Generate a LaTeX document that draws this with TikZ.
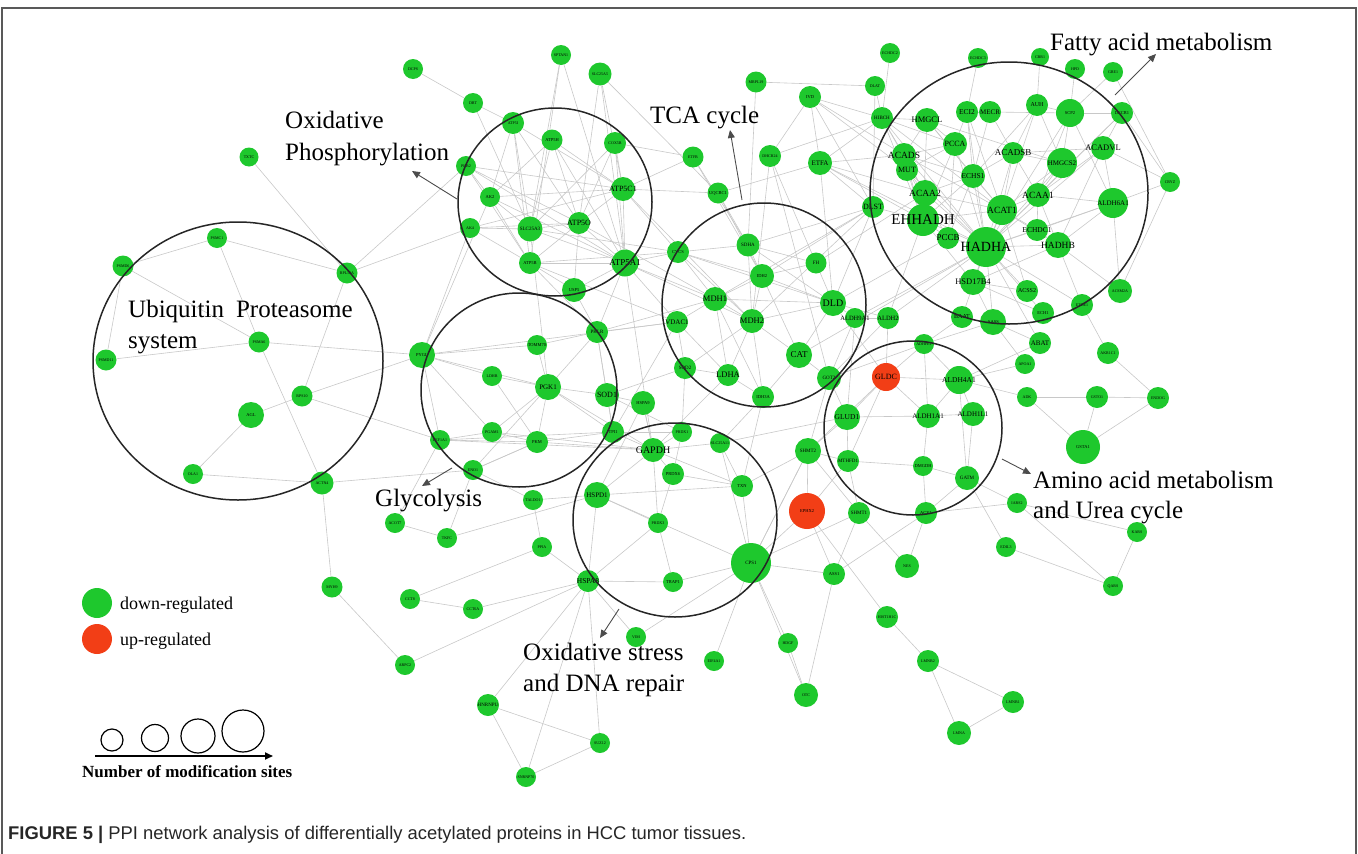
\documentclass[tikz,border=0pt]{standalone}
\usepackage{fontspec}
\setmainfont{Liberation Serif}
\newfontfamily\capfont{Liberation Sans}
\usetikzlibrary{arrows.meta,backgrounds}
\definecolor{ngreen}{RGB}{30,200,45}
\definecolor{nred}{RGB}{242,62,22}
\definecolor{linkgray}{RGB}{200,200,200}
\tikzset{
 pnode/.style={circle,draw=none,inner sep=0pt,fill=ngreen},
 link/.style={draw=linkgray,line width=0.6pt},
 grp/.style={draw=black!85,line width=1.5pt},
 ptr/.style={draw=black!70,line width=0.9pt,-{Triangle[width=7pt,length=8pt]}},
 anno/.style={font=\fontsize{25}{30}\selectfont,inner sep=0pt,anchor=base west},
 legtxt/.style={font=\fontsize{18}{20}\selectfont,inner sep=0pt,anchor=base west},
 scalec/.style={circle,draw=black,line width=1.2pt,inner sep=0pt},
 frame/.style={draw=black!65,line width=1.5pt},
}
\newcommand\GN[7][ngreen]{\node[pnode,fill=#1,minimum size=#5pt,label={[inner sep=0pt,font=\fontsize{#7}{#7}\selectfont]center:#6}] (#2) at (#3,#4) {};}
\begin{document}
\begin{tikzpicture}[x=1pt,y=-1pt]
\useasboundingbox (0,0) rectangle (1358,854);
\draw[frame] (2,870) -- (2,8) -- (1356,8) -- (1356,870);
% Ubiquitin
\GN{u1}{249}{157}{19}{TXTC}{4}
\GN{u2}{217}{238}{20}{PSMC1}{4}
\GN{u3}{123}{266}{21}{PSMD6}{4}
\GN{u4}{347}{273}{21}{RPL10A}{4}
\GN{u5}{106}{360}{21}{PSMD11}{4}
\GN{u6}{259}{342}{21}{PSMA6}{4}
\GN{u7}{302}{396}{21}{RPS10}{4}
\GN{u8}{251}{415}{26}{AGL}{4.5}
\GN{u9}{193}{474}{20}{OLA1}{4}
\GN{u10}{322}{483}{23}{ACTN4}{4}
\GN{u11}{332}{587}{21}{MYH9}{4}
% Oxidative phosphorylation
\GN{o1}{413}{69}{20}{DCPS}{4}
\GN{o2}{473}{103}{20}{DBT}{4}
\GN{o3}{561}{55}{20}{SPTAN1}{4}
\GN{o4}{600}{74}{23}{SLC25A5}{4}
\GN{o5}{513}{123}{22}{ATP5I}{4}
\GN{o6}{552}{140}{21}{ATP5H}{4.5}
\GN{o7}{615}{143}{22}{COX5B}{4}
\GN{o8}{466}{166}{20}{PHB2}{4}
\GN{o9}{490}{197}{20}{AK2}{4.5}
\GN{o10}{623}{189}{24}{ATP5C1}{8}
\GN{o11}{470}{228}{20}{AK4}{4}
\GN{o12}{530}{229}{25}{SLC25A3}{5}
\GN{o13}{579}{223}{22}{ATP5O}{8}
\GN{o14}{530}{263}{22}{ATP5B}{4.5}
\GN{o15}{625}{263}{27}{ATP5A1}{9}
\GN{o16}{574}{290}{24}{USP5}{4.5}
\GN{o17}{678}{252}{22}{CYCS}{4.5}
% TCA
\GN{t1}{756}{82}{21}{MRPL19}{4}
\GN{t2}{770}{156}{22}{DHCR24}{4}
\GN{t3}{693}{157}{21}{ETFB}{4}
\GN{t4}{718}{193}{21}{UQCRC1}{4.5}
\GN{t5}{810}{97}{22}{IVD}{4.5}
\GN{t6}{820}{163}{24}{ETFA}{7}
\GN{t7}{748}{245}{23}{SDHA}{5}
\GN{t8}{816}{263}{21}{FH}{5}
\GN{t9}{762}{276}{24}{IDH2}{4.5}
\GN{t10}{715}{299}{24}{MDH1}{8.5}
\GN{t11}{833}{303}{26}{DLD}{10}
\GN{t12}{752}{321}{24}{MDH2}{8.5}
\GN{t13}{855}{318}{20}{ALDH9A1}{6.5}
\GN{t14}{888}{318}{22}{ALDH2}{6.5}
\GN{t15}{799}{355}{26}{CAT}{9}
\GN{t16}{728}{375}{22}{LDHA}{8.5}
\GN{t17}{829}{378}{24}{GOT2}{5}
\GN{t18}{763}{397}{22}{IDH3A}{4.5}
\GN{t19}{677}{322}{22}{VDAC1}{7}
\GN{t20}{685}{368}{22}{SOD2}{5}
% Fatty acid
\GN{f1}{890}{53}{20}{ECHDC2}{4}
\GN{f2}{875}{86}{20}{DLAT}{4}
\GN{f3}{882}{118}{22}{HIBCH}{5}
\GN{f4}{927}{120}{24}{HMGCL}{8.5}
\GN{f5}{978}{58}{20}{ECHDC3}{4}
\GN{f6}{967}{112}{22}{ECI2}{7.5}
\GN{f7}{990}{112}{22}{MECR}{7}
\GN{f8}{1040}{57}{18}{CBR1}{4}
\GN{f9}{1075}{69}{20}{HPD}{4}
\GN{f10}{1113}{72}{20}{GBE1}{4}
\GN{f11}{1037}{105}{22}{AUH}{6}
\GN{f12}{1070}{113}{28}{SCP2}{4.5}
\GN{f13}{1122}{113}{22}{DECR1}{4.5}
\GN{f14}{955}{144}{24}{PCCA}{8}
\GN{f15}{904}{155}{24}{ACADS}{9.5}
\GN{f16}{907}{170}{22}{MUT}{8}
\GN{f17}{1013}{153}{22}{ACADSB}{9}
\GN{f18}{1062}{163}{30}{HMGCS2}{7}
\GN{f19}{1103}{148}{24}{ACADVL}{8.5}
\GN{f20}{1170}{182}{20}{CRYZ}{4}
\GN{f21}{973}{176}{24}{ECHS1}{7.5}
\GN{f22}{925}{193}{26}{ACAA2}{9.5}
\GN{f23}{1038}{195}{24}{ACAA1}{9.5}
\GN{f24}{873}{207}{22}{DLST}{8}
\GN{f25}{1002}{210}{30}{ACAT1}{9.5}
\GN{f26}{1113}{203}{30}{ALDH6A1}{7}
\GN{f27}{923}{220}{32}{EHHADH}{15}
\GN{f28}{948}{238}{22}{PCCB}{9}
\GN{f29}{986}{247}{40}{HADHA}{14}
\GN{f30}{1037}{230}{22}{ECHDC1}{7.5}
\GN{f31}{1058}{245}{26}{HADHB}{9.5}
\GN{f32}{973}{282}{26}{HSD17B4}{8.5}
\GN{f33}{1027}{291}{22}{ACSS2}{6}
\GN{f34}{1043}{313}{22}{ECH1}{4.5}
\GN{f35}{1082}{305}{22}{ETHE1}{4}
\GN{f36}{1120}{291}{24}{ACSM2A}{4}
\GN{f37}{962}{317}{22}{BAAT}{6}
\GN{f38}{993}{322}{26}{AASS}{4.5}
\GN{f39}{1040}{343}{22}{ABAT}{7}
\GN{f40}{1025}{364}{20}{APOA1}{4}
\GN{f41}{1108}{353}{22}{AKR1C1}{4}
% Amino acid
\GN{a1}{924}{344}{20}{ADHFE1}{4}
\GN[nred]{a2}{886}{377}{28}{GLDC}{8}
\GN{a3}{959}{380}{28}{ALDH4A1}{7.5}
\GN{a4}{847}{417}{26}{GLUD1}{7.5}
\GN{a5}{928}{416}{24}{ALDH1A1}{7}
\GN{a6}{973}{414}{24}{ALDH1L1}{7}
\GN{a7}{808}{451}{26}{SHMT2}{5}
\GN{a8}{848}{461}{22}{MTHFD1}{5}
\GN{a9}{923}{466}{20}{DMGDH}{4.5}
\GN{a10}{967}{478}{24}{GATM}{5}
\GN{a11}{859}{513}{22}{SHMT1}{5}
\GN{a12}{926}{513}{22}{ACY1}{4.5}
\GN[nred]{a13}{807}{511}{36}{EPHX2}{4.5}
\GN{a14}{1027}{397}{20}{ADK}{4}
\GN{a15}{1097}{397}{22}{GSTO1}{4}
\GN{a16}{1158}{398}{22}{ENDOG}{4}
\GN{a17}{1083}{447}{34}{GSTA1}{4.5}
\GN{a18}{1017}{503}{20}{IARS2}{4}
\GN{a19}{1137}{532}{20}{KARS}{4}
\GN{a20}{1006}{547}{20}{EDIL3}{4}
\GN{a21}{1113}{586}{20}{QARS}{4}
% Glycolysis
\GN{g1}{597}{332}{22}{PKLR}{5}
\GN{g2}{422}{355}{26}{PYGL}{4.5}
\GN{g3}{537}{345}{20}{TOMM70}{4.5}
\GN{g4}{492}{376}{20}{LDHB}{4}
\GN{g5}{548}{387}{26}{PGK1}{7}
\GN{g6}{607}{395}{24}{SOD1}{8}
\GN{g7}{643}{403}{24}{HSPA9}{4.5}
\GN{g8}{492}{432}{20}{PGAM1}{4}
\GN{g9}{537}{442}{22}{PKM}{4.5}
\GN{g10}{613}{432}{22}{TPI1}{4.5}
\GN{g11}{440}{440}{20}{EEF1A1}{4}
\GN{g12}{473}{470}{20}{ENO1}{4}
% Oxidative stress
\GN{s1}{682}{432}{20}{PRDX1}{4}
\GN{s2}{653}{450}{24}{GAPDH}{10}
\GN{s3}{673}{474}{22}{PRDX6}{4.5}
\GN{s4}{597}{495}{26}{HSPD1}{7}
\GN{s5}{658}{523}{20}{PRDX3}{4}
\GN{s6}{742}{486}{22}{TXN}{4.5}
\GN{s7}{720}{443}{20}{SLC25A11}{4}
\GN{s8}{751}{563}{40}{CPS1}{5}
\GN{s9}{588}{581}{22}{HSPA8}{7.5}
\GN{s10}{673}{582}{20}{TRAP1}{4.5}
\GN{s11}{533}{500}{20}{TALDO1}{4}
% others
\GN{b1}{395}{523}{20}{ACOT7}{4}
\GN{b2}{447}{538}{20}{TKFC}{4}
\GN{b3}{542}{547}{20}{PPIA}{4}
\GN{b4}{410}{599}{20}{CCT8}{4}
\GN{b5}{473}{609}{20}{CCT6A}{4}
\GN{b6}{405}{665}{20}{ARPC2}{4}
\GN{b7}{636}{637}{20}{VIM}{4}
\GN{b8}{488}{705}{22}{HNRNPU}{5}
\GN{b9}{600}{743}{20}{SUZ12}{4}
\GN{b10}{526}{777}{20}{SNRNP70}{4}
\GN{b11}{834}{574}{22}{ASS1}{4.5}
\GN{b12}{907}{566}{24}{NES}{4}
\GN{b13}{887}{617}{22}{HIST1H1C}{4}
\GN{b14}{788}{643}{20}{HDGF}{4}
\GN{b15}{714}{661}{20}{EIF4A1}{4}
\GN{b16}{806}{695}{24}{OTC}{4}
\GN{b17}{928}{661}{22}{LMNB2}{4}
\GN{b18}{959}{733}{24}{LMNA}{4}
\GN{b19}{1013}{702}{22}{LMNB1}{4}
% edges
\begin{scope}[on background layer]
\foreach \a/\b in {u1/u4,u2/u3,u2/u4,u2/u6,u3/u5,u3/u6,u5/u6,u6/u10,u4/u7,u7/u8,u8/u9,u9/u10,u6/g2,u7/g2,u7/g11,u10/g12,u10/u11,u11/b6,u4/o11,u4/o8,
o1/o2,o2/o5,o2/o12,o5/o9,o5/o12,o5/o14,o5/o13,o6/o9,o6/o13,o6/o12,o6/o15,o7/o10,o7/o13,o7/o15,o7/o12,o8/o9,o8/o10,o8/o13,o8/o15,o9/o12,o9/o14,o9/o10,o10/o13,o10/o15,o10/o17,o10/o11,o11/o12,o11/o14,o11/o13,o12/o13,o12/o15,o13/o15,o13/o14,o14/o15,o15/o17,o3/o12,o3/o15,o3/o14,o4/o13,o4/o10,o4/o15,o16/o15,o16/o14,o16/o13,o5/o10,o8/o14,o9/o15,o14/o17,o12/o17,o6/o10,o17/t7,o17/t10,o17/t9,o15/t19,o15/t10,o10/t4,o10/t3,o13/t10,o14/g1,o16/g1,o12/g5,o11/g2,o9/g2,o15/t12,o10/t12,o14/t19,o15/s2,o17/t12,o17/t11,o7/t3,o4/t4,
t7/t9,t7/t12,t7/t8,t7/t11,t9/t10,t9/t12,t9/t11,t10/t12,t10/t11,t11/t12,t11/t15,t12/t15,t12/t16,t15/t17,t16/t18,t18/t12,t8/t11,t17/t13,t13/t14,t10/t19,t19/t20,t20/t16,t4/t7,t4/t9,t6/t11,t6/t5,t1/t7,t3/t7,t2/t8,t17/t14,t9/t15,t10/t16,t8/t9,t11/t13,t11/t14,t15/t18,t18/t10,t16/t19,t20/t12,t6/t4,t6/f24,t6/f15,t6/f22,t6/f3,t5/f3,t5/f15,t5/f24,t5/f16,t1/f2,t2/t12,t2/t17,t11/f24,t9/f24,t7/f24,t10/f24,t12/f24,t14/f27,t14/f29,t13/f29,t14/a2,t13/a4,t17/a4,t17/a7,t15/f29,t11/a2,t11/f28,t3/t9,t6/f27,t6/f29,t8/f22,t5/t2,t2/f3,
f3/f4,f3/f15,f3/f22,f3/f27,f3/f14,f3/f25,f4/f14,f4/f15,f4/f21,f4/f25,f4/f18,f6/f7,f6/f21,f6/f29,f6/f25,f7/f21,f7/f17,f11/f18,f11/f12,f11/f25,f11/f21,f12/f26,f12/f18,f12/f23,f12/f29,f13/f19,f13/f23,f13/f29,f14/f28,f14/f29,f14/f16,f14/f15,f15/f16,f15/f21,f15/f22,f15/f25,f15/f29,f16/f28,f16/f29,f16/f22,f17/f21,f17/f23,f17/f29,f17/f25,f18/f25,f18/f23,f18/f29,f19/f23,f19/f29,f19/f26,f19/f17,f21/f22,f21/f25,f21/f27,f21/f29,f22/f25,f22/f27,f22/f29,f23/f25,f23/f29,f23/f31,f23/f30,f24/f27,f25/f27,f25/f29,f25/f30,f25/f31,f26/f29,f26/f31,f26/f23,f27/f29,f27/f28,f28/f29,f29/f30,f29/f31,f29/f32,f30/f31,f32/f27,f32/f25,f32/f31,f33/f29,f33/f25,f34/f29,f35/f29,f35/f31,f36/f31,f36/f26,f37/f29,f38/f29,f38/f32,f39/f29,f39/f38,f40/f38,f41/f35,f20/f26,f20/f19,f10/f12,f9/f12,f8/f11,f5/f6,f1/f3,f2/f3,f2/f24,f20/f13,f4/f27,f14/f27,f21/f28,f17/f18,f11/f17,f15/f27,f16/f27,f6/f14,f7/f12,f3/f29,f13/f12,f19/f31,f26/f30,f33/f32,f34/f32,f39/a3,f38/a1,f37/a1,f40/a3,f41/a16,f36/f20,f10/f20,
a1/a2,a1/a3,a1/a5,a2/a3,a2/a4,a2/a5,a2/a7,a2/a8,a3/a5,a3/a6,a3/a10,a4/a7,a4/a8,a4/a5,a5/a6,a5/a9,a6/a10,a7/a8,a7/a11,a8/a9,a8/a11,a9/a10,a9/a12,a10/a12,a3/a14,a14/a15,a14/a17,a15/a17,a15/a16,a16/a17,a13/a7,a13/a8,a13/s8,a13/b11,a12/a18,a10/a18,a18/a19,a19/a21,a18/a21,a20/a21,a10/a20,a4/s7,a7/s6,a7/s8,a11/b11,a11/s8,a12/b12,t17/a1,a12/b11,
g1/g3,g1/g5,g1/g6,g1/g10,g2/g3,g2/g4,g2/g5,g2/g8,g2/g11,g3/g5,g4/g5,g5/g6,g5/g8,g5/g9,g5/g10,g5/g12,g6/g10,g6/g7,g8/g9,g8/g11,g9/g10,g9/g12,g10/s2,g9/s2,g5/s2,g8/s2,g10/s1,g12/g9,g11/g9,g11/g10,g7/s4,g7/s2,g6/t20,g10/t19,g1/t19,g1/t10,g6/s1,g12/s11,g11/b1,g12/b2,g1/o15,g2/t19,g11/s2,g4/g9,
s1/s2,s1/s3,s2/s3,s2/s4,s2/s5,s2/s6,s2/s7,s3/s5,s4/s5,s4/s9,s4/s8,s5/s9,s5/s10,s6/s8,s6/s7,s7/s8,s9/s10,s10/s8,s9/b3,s9/b5,s9/b6,s9/b8,s9/b9,s9/b10,s9/b7,s11/s4,s11/b3,s2/t16,s1/t20,s6/t18,s7/t18,s2/g7,s8/b11,s8/b14,s8/b15,s8/b16,s8/a7,b11/b16,b13/a13,b13/b17,b17/b18,b17/b19,b18/b19,b4/b3,b4/b5,b8/b9,b8/b10,b9/b10,b12/a11,b14/b16,b1/b2,b2/s4,b7/s8,s3/s6,s4/s6}
  \draw[link] (\a) -- (\b);
\end{scope}
% group circles
\draw[grp] (238,361) ellipse [x radius=145pt,y radius=139pt];
\draw[grp] (555,202) ellipse [x radius=97pt,y radius=94pt];
\draw[grp] (764,305) ellipse [x radius=102pt,y radius=102pt];
\draw[grp] (1009,193) ellipse [x radius=139pt,y radius=131pt];
\draw[grp] (519,390) ellipse [x radius=98pt,y radius=97pt];
\draw[grp] (913,428) ellipse [x radius=89pt,y radius=87pt];
\draw[grp] (675,520) ellipse [x radius=102pt,y radius=97pt];
% annotations
\node[anno] (txOx1) at (285,128) {Oxidative};
\node[anno] (txOx2) at (285,160) {Phosphorylation};
\node[anno] (txTCA) at (650,123) {TCA cycle};
\node[anno] (txFat) at (1050,50) {Fatty acid metabolism};
\node[anno] (txUb1) at (128,317) {Ubiquitin\hspace{12pt}Proteasome};
\node[anno] (txUb2) at (128,348) {system};
\node[anno] (txGly) at (375,506) {Glycolysis};
\node[anno] (txAA1) at (1033,488) {Amino acid metabolism};
\node[anno] (txAA2) at (1033,518) {and Urea cycle};
\node[anno] (txOS1) at (523,660) {Oxidative stress};
\node[anno] (txOS2) at (523,691) {and DNA repair};
\coordinate (pOxA) at (457,199); \coordinate (pOxB) at (412,171);
\coordinate (pTcA) at (742,200); \coordinate (pTcB) at (730,130);
\coordinate (pFaA) at (1115,95); \coordinate (pFaB) at (1156,54);
\coordinate (pGlA) at (452,468); \coordinate (pGlB) at (422,486);
\coordinate (pOsA) at (619,609); \coordinate (pOsB) at (600,638);
\coordinate (pAaA) at (1002,459); \coordinate (pAaB) at (1031,474);
\draw[ptr] (pOxA) -- (pOxB);
\draw[ptr] (pTcA) -- (pTcB);
\draw[ptr] (pFaA) -- (pFaB);
\draw[ptr] (pGlA) -- (pGlB);
\draw[ptr] (pOsA) -- (pOsB);
\draw[ptr] (pAaA) -- (pAaB);
% legend
\node[pnode,minimum size=30pt] (lgDown) at (97,603) {};
\node[pnode,fill=nred,minimum size=30pt] (lgUp) at (97,639) {};
\node[legtxt] (txDown) at (120,609) {down-regulated};
\node[legtxt] (txUp) at (120,645) {up-regulated};
\node[scalec,minimum size=22pt] (sc1) at (112,740) {};
\node[scalec,minimum size=27pt] (sc2) at (155,738) {};
\node[scalec,minimum size=34pt] (sc3) at (198,736) {};
\node[scalec,minimum size=42pt] (sc4) at (243,731) {};
\coordinate (scA) at (95,756); \coordinate (scB) at (273,756);
\draw[line width=1.8pt,-{Triangle[width=7pt,length=8pt]}] (scA) -- (scB);
\node[font=\bfseries\fontsize{17}{19}\selectfont,inner sep=0pt,anchor=base west] (txNum) at (82,777) {Number of modification sites};
% caption
\node[font=\capfont\fontsize{18.4}{21}\selectfont,inner sep=0pt,anchor=base west,text=black!85] (cap) at (8,839) {\textbf{FIGURE 5 |} PPI network analysis of differentially acetylated proteins in HCC tumor tissues.};
\end{tikzpicture}
\end{document}
